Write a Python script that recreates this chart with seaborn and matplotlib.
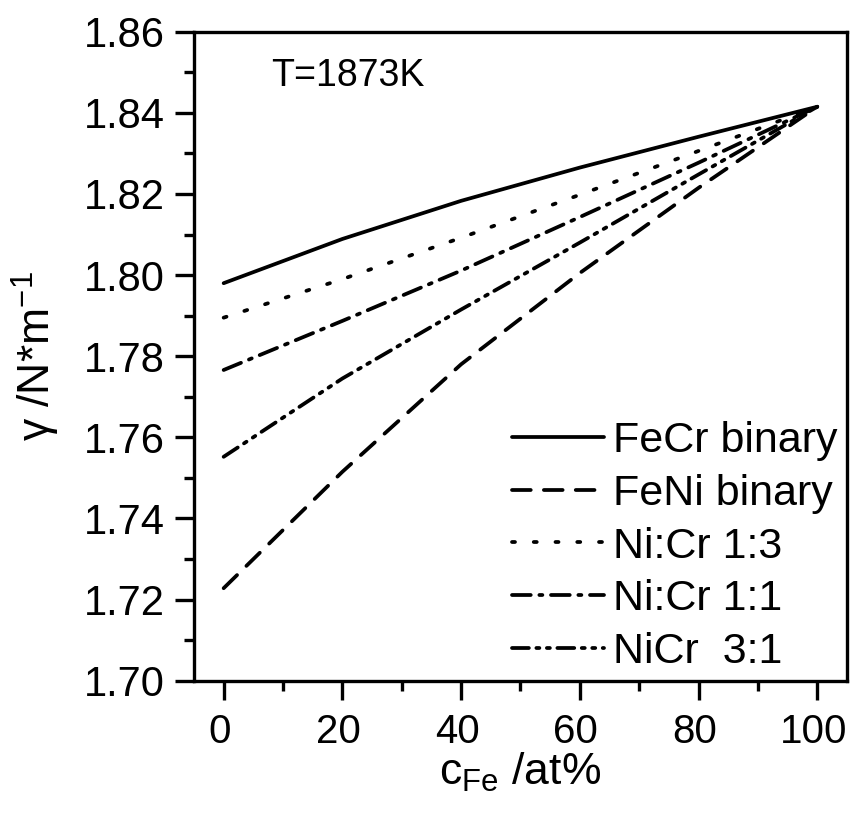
import numpy as np
import pandas as pd
import matplotlib
matplotlib.use("Agg")
import matplotlib.pyplot as plt
import matplotlib.transforms as mtransforms
import seaborn as sns

# values (x in at% Fe, y in N/m)
c_fe = [0, 20, 40, 60, 80, 100]
fecr_binary = [1.7980, 1.8089, 1.8183, 1.8265, 1.8341, 1.8415]
feni_binary = [1.7228, 1.7515, 1.7780, 1.8005, 1.8215, 1.8415]
nicr_1_3 = [1.7895, 1.7990, 1.8092, 1.8198, 1.8306, 1.8415]
nicr_1_1 = [1.7766, 1.7887, 1.8011, 1.8143, 1.8277, 1.8415]
nicr_3_1 = [1.7552, 1.7745, 1.7915, 1.8080, 1.8248, 1.8415]

labels = ["FeCr binary", "FeNi binary", "Ni:Cr 1:3", "Ni:Cr 1:1", "NiCr  3:1"]
series = [fecr_binary, feni_binary, nicr_1_3, nicr_1_1, nicr_3_1]
styles = ["-", (0, (5, 3.5)), (0, (0.8, 5)), (0, (5, 2.3, 0.8, 2.3)),
          (0, (4.5, 2, 0.8, 2, 0.8, 2))]

sns.set_style("ticks")
plt.rcParams["font.family"] = ["Liberation Sans", "DejaVu Sans"]
plt.rcParams["mathtext.fontset"] = "custom"
plt.rcParams["mathtext.rm"] = "Liberation Sans"
plt.rcParams["mathtext.it"] = "Liberation Sans:italic"
plt.rcParams["text.color"] = "black"
plt.rcParams["axes.labelcolor"] = "black"

fig = plt.figure(figsize=(8.5, 8.15), dpi=100)
ax = fig.add_axes([0.2282, 0.1648, 0.7682, 0.7963])

for lab, ys, ls in zip(labels, series, styles):
    df = pd.DataFrame({"c": c_fe, "g": ys})
    sns.lineplot(data=df, x="c", y="g", ax=ax, color="black", lw=2.7,
                 linestyle=ls, label=lab, legend=False,
                 dash_capstyle="round")

ax.set_xlim(-5, 105)
ax.set_ylim(1.70, 1.86)
ax.set_xticks(np.arange(0, 101, 20))
ax.set_xticks(np.arange(10, 100, 20), minor=True)
ax.set_yticks(np.arange(1.70, 1.861, 0.02))
ax.set_yticks(np.arange(1.71, 1.86, 0.02), minor=True)
ax.set_yticklabels([f"{v:.2f}" for v in np.arange(1.70, 1.861, 0.02)])

for s in ax.spines.values():
    s.set_linewidth(2.4)
    s.set_color("black")
    s.set_visible(True)
ax.tick_params(which="major", direction="out", length=14, width=2.4,
               labelsize=30, pad=7, color="black", labelcolor="black")
ax.tick_params(which="minor", direction="out", length=7, width=2.4,
               color="black")
ax.tick_params(axis="x", labelsize=29, pad=9)
shift = mtransforms.ScaledTranslation(-4 / 100, 0, fig.dpi_scale_trans)
for t in ax.get_xticklabels():
    t.set_transform(t.get_transform() + shift)

ax.set_xlabel(r"c$_{\mathrm{Fe}}$ /at%", fontsize=32, labelpad=0)
ax.set_ylabel(r"$\mathrm{\gamma}$ /N*m$^{-1}$", fontsize=32, labelpad=16)

ax.text(8, 1.849, "T=1873K", fontsize=27, va="center", ha="left")

ax.legend(loc="lower right", frameon=False, fontsize=31,
          handlelength=2.15, handletextpad=0.2, labelspacing=0.3,
          borderaxespad=0.15, borderpad=0.3,
          bbox_to_anchor=(1.0153, -0.017))

fig.savefig("out.png", dpi=100)
